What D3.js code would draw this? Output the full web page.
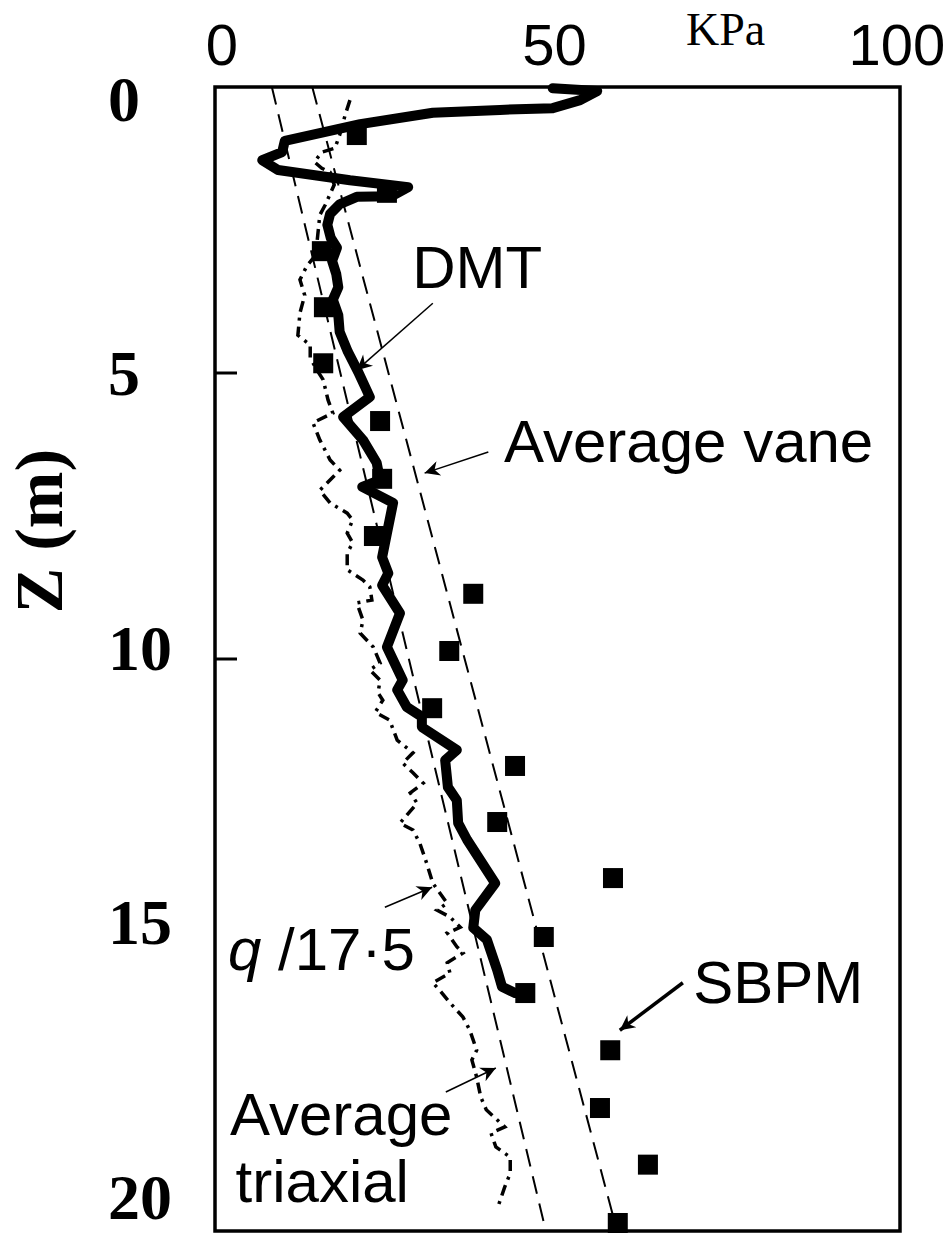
<!DOCTYPE html>
<html>
<head>
<meta charset="utf-8">
<script src="https://cdn.jsdelivr.net/npm/d3@7"></script>
<style>
  body { margin: 0; background: #fff; }
  svg { display: block; }
  .sans { font-family: "Liberation Sans", Arial, sans-serif; }
  .serif { font-family: "Liberation Serif", "Times New Roman", serif; }
</style>
</head>
<body>
<div id="chart"></div>
<script>

// x axis (KPa) and depth axis (m)
const xTicks = [0, 50, 100];
const yTicks = [0, 5, 10, 15, 20];
const yTickMarks = [5, 10];

// SBPM points
const sbpmDepth = [0.84, 1.85, 2.87, 3.85, 4.83, 5.84, 6.85, 7.85, 8.86, 9.86,
                   10.86, 11.87, 12.85, 13.83, 14.86, 15.84, 16.84, 17.85, 18.84, 19.86];
const sbpmValue = [20.7, 25.1, 15.6, 15.9, 15.8, 24.1, 24.4, 23.2, 37.7, 34.2,
                   31.7, 43.8, 41.2, 58.1, 48.0, 45.3, 57.7, 56.2, 63.2, 58.8];

// DMT profile
const dmtDepth = [0.02, 0.07, 0.23, 0.37, 0.40, 0.45, 0.65, 0.94, 1.14, 1.28,
                  1.45, 1.63, 1.75, 1.91, 1.92, 2.05, 2.22, 2.41, 2.64, 2.81,
                  3.04, 3.27, 3.50, 3.72, 3.99, 4.28, 4.63, 4.98, 5.42, 5.77,
                  6.17, 6.57, 6.87, 6.99, 7.27, 7.80, 8.22, 8.50, 8.71, 9.20,
                  9.79, 10.37, 10.54, 10.84, 11.01, 11.19, 11.59, 11.77, 12.24, 12.47,
                  12.87, 13.16, 13.92, 14.39, 14.70, 14.91, 15.44, 15.73, 15.84, 15.84];
const dmtValue = [49.3, 55.8, 53.3, 49.3, 41.6, 31.8, 21.2, 10.2, 9.8, 6.9,
                  9.2, 19.7, 28.2, 25.8, 20.7, 18.2, 16.8, 16.4, 16.9, 17.8,
                  17.1, 17.7, 18.0, 17.2, 18.0, 18.2, 19.4, 20.9, 22.6, 18.7,
                  21.6, 23.6, 24.1, 21.5, 26.0, 25.1, 24.4, 25.3, 24.4, 27.0,
                  25.1, 27.4, 26.6, 28.0, 30.2, 30.2, 35.3, 33.6, 34.0, 35.3,
                  35.5, 36.8, 40.9, 38.0, 37.7, 39.7, 41.2, 41.9, 43.8, 45.5];

// q / 17.5 profile
const qDepth = [0.23, 0.49, 0.84, 1.07, 1.14, 1.31, 1.42, 1.49, 1.71, 2.06,
                2.24, 2.59, 2.94, 3.13, 3.37, 3.64, 3.95, 4.34, 4.51, 4.74,
                4.95, 5.12, 5.47, 5.70, 5.87, 6.17, 6.52, 6.70, 6.92, 7.05,
                7.27, 7.45, 7.57, 7.80, 7.97, 8.15, 8.44, 8.62, 8.74, 8.97,
                9.02, 9.32, 9.55, 9.79, 10.07, 10.19, 10.37, 10.59, 10.72, 10.93,
                11.07, 11.42, 11.64, 11.82, 11.99, 12.17, 12.34, 12.52, 12.87, 12.99,
                13.22, 13.57, 13.92, 14.27, 14.39, 14.51, 14.69, 14.79, 15.03, 15.14,
                15.31, 15.49, 15.66, 15.79, 16.01, 16.26, 16.49, 16.84, 17.01, 17.31,
                17.66, 17.88, 18.18, 18.29, 18.53, 18.71, 18.99, 19.23, 19.58];
const qValue = [19.7, 19.0, 18.2, 17.5, 15.6, 14.5, 15.6, 16.8, 17.4, 16.1,
                15.3, 15.0, 14.7, 13.4, 12.4, 13.1, 12.4, 12.1, 13.9, 13.9,
                14.9, 15.8, 16.5, 17.2, 14.3, 15.3, 16.8, 18.2, 16.4, 15.3,
                16.8, 19.3, 20.1, 19.3, 20.1, 19.3, 19.3, 21.6, 22.6, 22.9,
                20.7, 21.6, 21.2, 23.1, 24.1, 22.6, 24.1, 23.8, 24.5, 23.4,
                25.5, 26.6, 28.9, 27.4, 28.9, 30.4, 28.5, 29.5, 27.0, 28.9,
                29.9, 30.9, 31.8, 33.9, 32.4, 34.3, 35.8, 33.9, 35.3, 36.2,
                33.9, 34.3, 31.8, 32.8, 34.3, 36.2, 37.2, 38.2, 37.5, 38.2,
                38.8, 39.6, 42.3, 40.3, 41.0, 43.1, 43.1, 42.3, 41.3];

// average lines
const avgDepth = [0, 20];
const vaneValue = [14.2, 58.7];
const triaxValue = [8.3, 48.3];

// annotations [value, depth]
const labels = [
  { text: "DMT", v: 28.8, z: 3.51 },
  { text: "Average vane", v: 42.2, z: 6.56 },
  { text: "SBPM", v: 69.8, z: 16.01 },
  { text: "Average", v: 2.2, z: 18.32 },
  { text: "triaxial", v: 3.0, z: 19.49 }
];
const arrows = [
  { from: [31.8, 3.78], to: [20.7, 4.95], w: 1.5 },
  { from: [39.9, 6.38], to: [30.6, 6.75], w: 1.5 },
  { from: [24.8, 14.34], to: [31.7, 13.99], w: 1.5 },
  { from: [68.3, 15.66], to: [59.1, 16.49], w: 3.5 },
  { from: [33.7, 17.57], to: [41.0, 17.15], w: 1.5 }
];

const width = 944, height = 1233;

const x = d3.scaleLinear().domain([0, 100]).range([215, 900]);
const y = d3.scaleLinear().domain([0, 20]).range([87, 1231]);
// printed depth labels are spaced a little tighter than the ticks
const yLab = d3.scaleLinear().domain([0, 20]).range([99, 1197]);

const svg = d3.select("#chart").append("svg")
  .attr("width", width)
  .attr("height", height);

svg.append("defs").append("marker")
  .attr("id", "head")
  .attr("viewBox", "0 0 10 10")
  .attr("refX", 10).attr("refY", 5)
  .attr("markerUnits", "userSpaceOnUse")
  .attr("markerWidth", 28).attr("markerHeight", 15)
  .attr("orient", "auto")
  .append("path")
  .attr("d", "M0,0 L10,5 L0,10 L3,5 Z")
  .attr("fill", "#000");

// x tick labels
svg.selectAll(".xlab")
  .data(xTicks).enter()
  .append("text")
  .attr("class", "xlab sans")
  .attr("x", (d) => x(d) + (d === 0 ? 7 : -3))
  .attr("y", 65)
  .attr("text-anchor", "middle")
  .attr("font-size", 58)
  .text((d) => d);

svg.append("text")
  .attr("class", "serif")
  .attr("x", 686).attr("y", 45)
  .attr("font-size", 46)
  .text("KPa");

// y tick labels
svg.selectAll(".ylab")
  .data(yTicks).enter()
  .append("text")
  .attr("class", "ylab serif")
  .attr("x", 108)
  .attr("y", (d) => yLab(d))
  .attr("dy", "0.34em")
  .attr("font-size", 64)
  .attr("font-weight", "bold")
  .text((d) => d);

svg.append("text")
  .attr("class", "serif")
  .attr("transform", "translate(62,531) rotate(-90)")
  .attr("text-anchor", "middle")
  .attr("font-size", 68)
  .attr("font-weight", "bold")
  .text("Z (m)");

// frame
svg.append("rect")
  .attr("x", x(0)).attr("y", y(0))
  .attr("width", x(100) - x(0))
  .attr("height", y(20) - y(0))
  .attr("fill", "none")
  .attr("stroke", "#000")
  .attr("stroke-width", 3.5);

svg.selectAll(".ytick")
  .data(yTickMarks).enter()
  .append("line")
  .attr("x1", x(0)).attr("x2", x(0) + 22)
  .attr("y1", (d) => y(d)).attr("y2", (d) => y(d))
  .attr("stroke", "#000")
  .attr("stroke-width", 3);

const plot = svg.append("g");

const line = d3.line()
  .x((d) => x(d[1]))
  .y((d) => y(d[0]));

// average lines
[vaneValue, triaxValue].forEach((vals) => {
  plot.append("path")
    .datum(avgDepth.map((z, i) => [z, vals[i]]))
    .attr("d", line)
    .attr("fill", "none")
    .attr("stroke", "#000")
    .attr("stroke-width", 2)
    .attr("stroke-dasharray", "18,10");
});

// q / 17.5
plot.append("path")
  .datum(qDepth.map((z, i) => [z, qValue[i]]))
  .attr("d", line)
  .attr("fill", "none")
  .attr("stroke", "#000")
  .attr("stroke-width", 3.5)
  .attr("stroke-dasharray", "11,6,3,6");

// DMT
plot.append("path")
  .datum(dmtDepth.map((z, i) => [z, dmtValue[i]]))
  .attr("d", line)
  .attr("fill", "none")
  .attr("stroke", "#000")
  .attr("stroke-width", 10)
  .attr("stroke-linejoin", "round")
  .attr("stroke-linecap", "round");

// SBPM
const sq = 20;
plot.selectAll(".sbpm")
  .data(sbpmDepth.map((z, i) => [z, sbpmValue[i]]))
  .enter()
  .append("rect")
  .attr("class", "sbpm")
  .attr("x", (d) => x(d[1]) - sq / 2)
  .attr("y", (d) => y(d[0]) - sq / 2)
  .attr("width", sq).attr("height", sq)
  .attr("fill", "#000");

// annotations
svg.selectAll(".note")
  .data(labels).enter()
  .append("text")
  .attr("class", "note sans")
  .attr("x", (d) => x(d.v))
  .attr("y", (d) => y(d.z))
  .attr("font-size", 60)
  .text((d) => d.text);

const qLab = svg.append("text")
  .attr("class", "sans")
  .attr("x", x(1.9)).attr("y", y(15.44))
  .attr("font-size", 60);
qLab.append("tspan").attr("font-style", "italic").text("q");
qLab.append("tspan").text(" /17\u00b75");

svg.selectAll(".arrow")
  .data(arrows).enter()
  .append("line")
  .attr("class", "arrow")
  .attr("x1", (d) => x(d.from[0])).attr("y1", (d) => y(d.from[1]))
  .attr("x2", (d) => x(d.to[0])).attr("y2", (d) => y(d.to[1]))
  .attr("stroke", "#000")
  .attr("stroke-width", (d) => d.w)
  .attr("marker-end", "url(#head)");

</script>
</body>
</html>
